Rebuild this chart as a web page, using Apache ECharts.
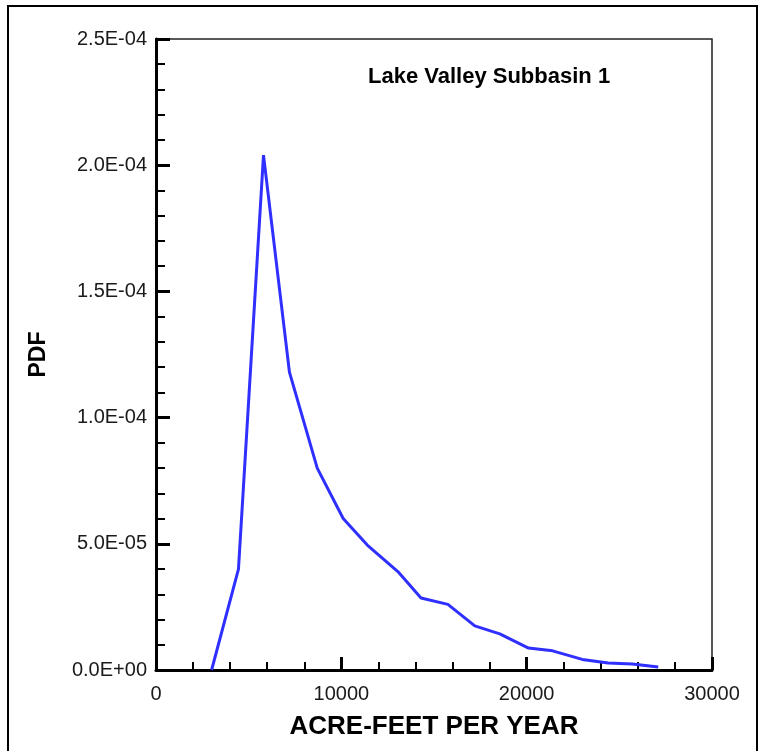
<!DOCTYPE html>
<html>
<head>
<meta charset="utf-8">
<script src="https://cdn.jsdelivr.net/npm/echarts@6/dist/echarts.min.js"></script>
<style>
html,body{margin:0;padding:0;background:#fff;}
#chart{width:759px;height:751px;}
</style>
</head>
<body>
<div id="chart"></div>
<script>
// Data
const xValues = [3000, 4450, 5800, 7200, 8700, 10100, 11400, 13050, 14300, 15750, 17200, 18550, 20100, 21400, 23000, 24400, 25700, 27100];
const pdfValues = [0, 4.0e-5, 2.04e-4, 1.18e-4, 8.0e-5, 6.0e-5, 4.95e-5, 3.9e-5, 2.85e-5, 2.6e-5, 1.75e-5, 1.43e-5, 8.7e-6, 7.6e-6, 4.2e-6, 2.8e-6, 2.4e-6, 1.2e-6];
const titleText = 'Lake Valley Subbasin 1';
const xTitle = 'ACRE-FEET PER YEAR';
const yTitle = 'PDF';

const seriesData = xValues.map((x, i) => [x, pdfValues[i]]);

function sciLabel(v) {
  let s = Number(v).toExponential(1).toUpperCase();
  return s.replace(/E([+-])(\d)$/, 'E$10$2');
}

const chart = echarts.init(document.getElementById('chart'), null, {renderer: 'canvas'});
chart.setOption({
  animation: false,
  backgroundColor: '#fff',
  grid: {
    left: 156, right: 47, top: 39, bottom: 81,
    show: true, borderColor: '#222', borderWidth: 1.5, backgroundColor: 'transparent'
  },
  title: {
    text: titleText,
    left: 363, top: 61,
    textStyle: {fontFamily: 'Liberation Sans, Arial', fontWeight: 'bold', fontSize: 22, color: '#000'}
  },
  xAxis: {
    type: 'value', min: 0, max: 30000, interval: 10000,
    name: xTitle, nameLocation: 'middle', nameGap: 44,
    nameTextStyle: {fontFamily: 'Liberation Sans, Arial', fontWeight: 'bold', fontSize: 26, color: '#000'},
    axisLine: {show: true, onZero: false, lineStyle: {color: '#000', width: 3}},
    axisTick: {show: true, inside: true, length: 13, lineStyle: {color: '#000', width: 3}},
    minorTick: {show: true, splitNumber: 5, length: 8, lineStyle: {color: '#000', width: 2}},
    axisLabel: {margin: 14, fontFamily: 'Liberation Sans, Arial', fontSize: 20, color: '#1a1a1a', formatter: v => String(v)},
    splitLine: {show: false}
  },
  yAxis: {
    type: 'value', min: 0, max: 2.5e-4, interval: 5e-5,
    name: yTitle, nameLocation: 'middle', nameGap: 106, nameRotate: 90,
    nameTextStyle: {fontFamily: 'Liberation Sans, Arial', fontWeight: 'bold', fontSize: 23, color: '#000'},
    axisLine: {show: true, onZero: false, lineStyle: {color: '#000', width: 3}},
    axisTick: {show: true, inside: true, length: 14, lineStyle: {color: '#000', width: 3}},
    minorTick: {show: true, splitNumber: 5, length: 9, lineStyle: {color: '#000', width: 2}},
    axisLabel: {margin: 9, fontFamily: 'Liberation Sans, Arial', fontSize: 20, color: '#1a1a1a', formatter: sciLabel},
    splitLine: {show: false}
  },
  series: [{
    type: 'line',
    data: seriesData,
    showSymbol: false,
    lineStyle: {color: '#2f2fff', width: 3},
    itemStyle: {color: '#2f2fff'}
  }],
  graphic: [{
    type: 'rect',
    shape: {x: 8, y: 6, width: 749, height: 760},
    style: {fill: 'none', stroke: '#000', lineWidth: 2},
    silent: true
  }]
});
</script>
</body>
</html>
